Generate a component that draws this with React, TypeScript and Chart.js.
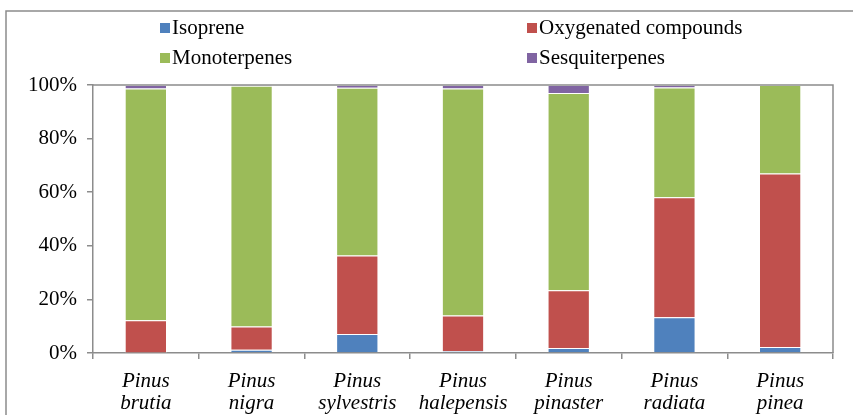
import React, { useEffect, useRef } from "react";
import { Chart, registerables } from "chart.js";

Chart.register(...registerables);

const categories: string[][] = [
  ["Pinus", "brutia"],
  ["Pinus", "nigra"],
  ["Pinus", "sylvestris"],
  ["Pinus", "halepensis"],
  ["Pinus", "pinaster"],
  ["Pinus", "radiata"],
  ["Pinus", "pinea"],
];

const isoprene = [0.2, 1.2, 7.1, 0.7, 1.9, 13.3, 2.2];
const oxygenated = [12.0, 8.7, 29.3, 13.3, 21.5, 44.8, 64.8];
const monoterpenes = [86.5, 89.8, 62.6, 84.7, 73.6, 41.0, 33.0];
const sesquiterpenes = [1.3, 0.3, 1.0, 1.3, 3.0, 0.9, 0.0];

const yTicks = [0, 20, 40, 60, 80, 100];

const FONT = "'Liberation Serif', 'Times New Roman', serif";

const legendPlugin = {
  id: "customLegend",
  beforeDraw(chart: any) {
    const ctx = chart.ctx;
    ctx.save();
    ctx.strokeStyle = "#8c8c8c";
    ctx.lineWidth = 1.5;
    ctx.beginPath();
    ctx.moveTo(6, 420);
    ctx.lineTo(6, 11);
    ctx.lineTo(860, 11);
    ctx.stroke();
    ctx.restore();
  },
  afterDraw(chart: any) {
    const ctx = chart.ctx;
    const ds = chart.data.datasets;
    const pos = [
      { x: 160, y: 27 },
      { x: 527, y: 27 },
      { x: 160, y: 57 },
      { x: 527, y: 57 },
    ];
    ctx.save();
    ctx.font = `21px ${FONT}`;
    ctx.textBaseline = "middle";
    ctx.textAlign = "left";
    ds.forEach((d: any, i: number) => {
      const p = pos[i];
      ctx.fillStyle = d.backgroundColor;
      ctx.fillRect(p.x, p.y - 4, 10, 10);
      ctx.fillStyle = "#000";
      ctx.fillText(d.label, p.x + 12, p.y + 1);
    });
    const a = chart.chartArea;
    ctx.strokeStyle = "#8c8c8c";
    ctx.lineWidth = 1.5;
    ctx.beginPath();
    ctx.moveTo(a.left, a.top);
    ctx.lineTo(a.right, a.top);
    ctx.lineTo(a.right, a.bottom);
    ctx.stroke();
    ctx.restore();
  },
};

export default function App() {
  const ref = useRef<HTMLCanvasElement>(null);
  useEffect(() => {
    if (!ref.current) return;
    const mk = (label: string, data: number[], color: string) => ({
      label,
      data,
      backgroundColor: color,
      borderColor: "rgba(255,255,255,0.55)",
      borderWidth: 1,
      barPercentage: 0.4,
      categoryPercentage: 1,
    });
    const chart = new Chart(ref.current, {
      type: "bar",
      data: {
        labels: categories,
        datasets: [
          mk("Isoprene", isoprene, "#4F81BD"),
          mk("Oxygenated compounds", oxygenated, "#C0504D"),
          mk("Monoterpenes", monoterpenes, "#9BBB59"),
          mk("Sesquiterpenes", sesquiterpenes, "#8064A2"),
        ],
      },
      options: {
        animation: false,
        responsive: false,
        maintainAspectRatio: false,
        layout: { padding: { top: 85, right: 20, left: 0, bottom: 0 } },
        plugins: { legend: { display: false }, tooltip: { enabled: false } },
        scales: {
          x: {
            stacked: true,
            afterFit: (s: any) => {
              s.height = 62;
            },
            grid: {
              offset: true,
              drawOnChartArea: false,
              tickLength: 6,
              color: "#8c8c8c",
              lineWidth: 1.5,
            },
            border: { color: "#8c8c8c", width: 1.5 },
            ticks: {
              color: "#000",
              padding: 11,
              maxRotation: 0,
              autoSkip: false,
              font: { family: FONT, size: 21, style: "italic", lineHeight: 1.05 },
            },
          },
          y: {
            stacked: true,
            min: 0,
            max: 100,
            afterFit: (s: any) => {
              s.width = 93;
            },
            afterBuildTicks: (s: any) => {
              s.ticks = yTicks.map((v) => ({ value: v }));
            },
            grid: {
              drawOnChartArea: false,
              tickLength: 6,
              color: "#8c8c8c",
              lineWidth: 1.5,
            },
            border: { color: "#8c8c8c", width: 1.5 },
            ticks: {
              color: "#000",
              padding: 10,
              font: { family: FONT, size: 21 },
              callback: (v: any) => `${v}%`,
            },
          },
        },
      },
      plugins: [legendPlugin],
    });
    return () => chart.destroy();
  }, []);
  return (
    <div style={{ position: "fixed", left: 0, top: 0, width: 853, height: 415, background: "#fff" }}>
      <canvas ref={ref} width={853} height={415} style={{ display: "block" }} />
    </div>
  );
}
